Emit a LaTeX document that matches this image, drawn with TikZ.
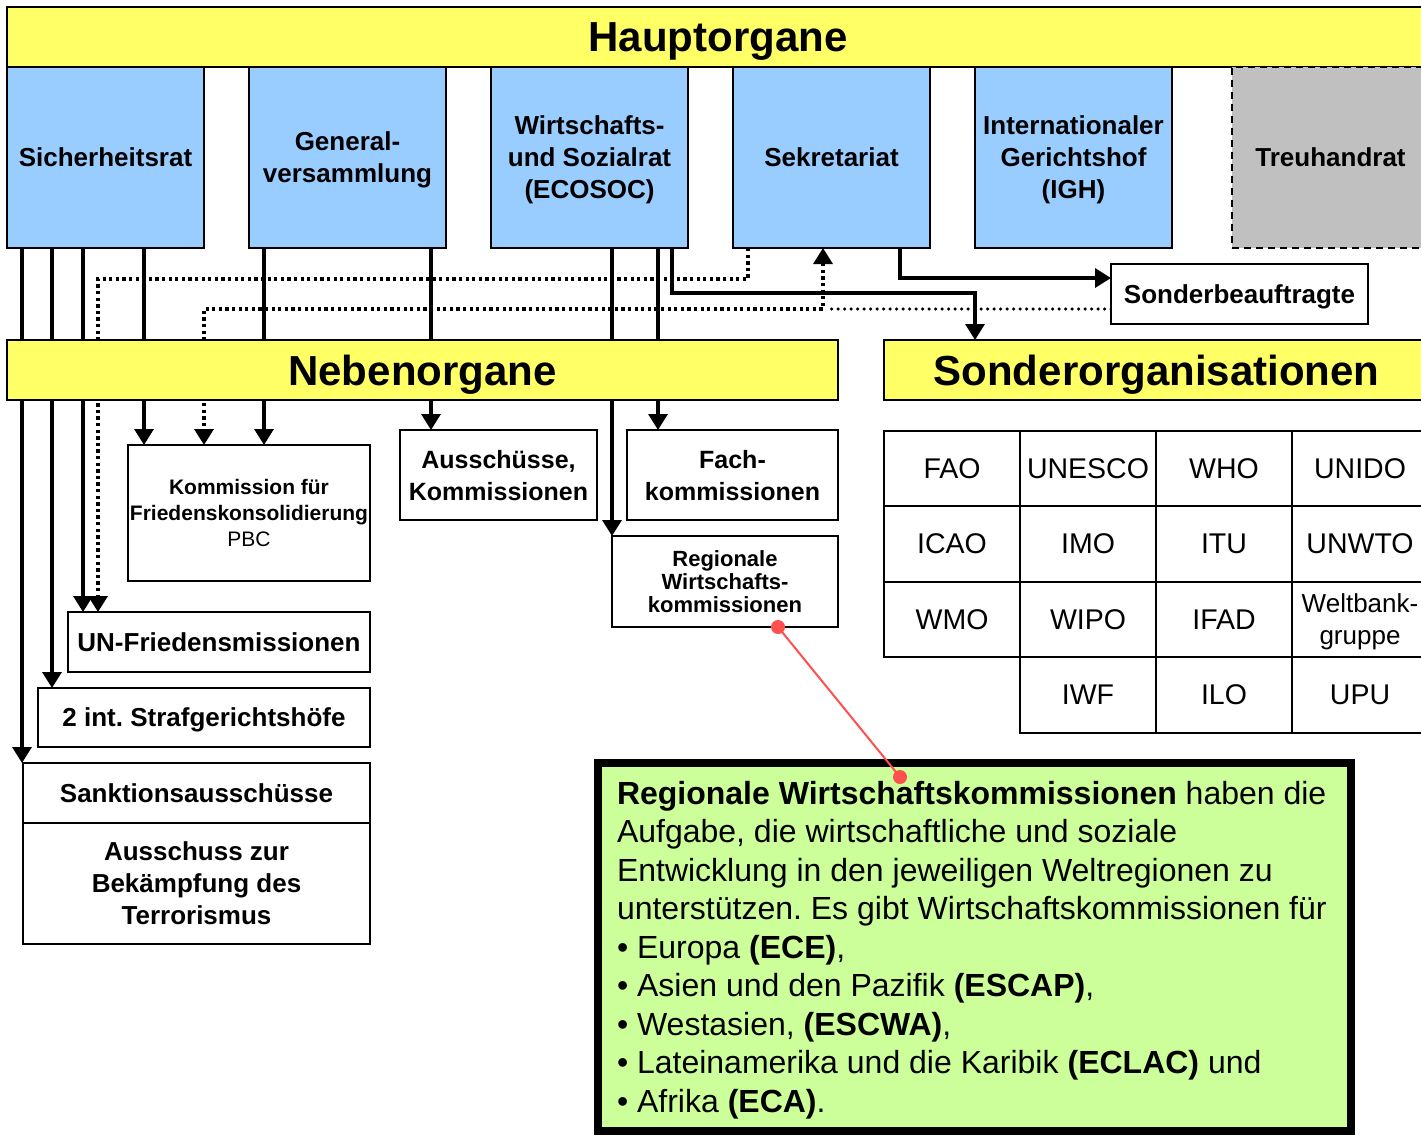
\documentclass[tikz,border=0pt]{standalone}
\usepackage{fontspec}
\setmainfont{Liberation Sans}
\usetikzlibrary{arrows.meta,backgrounds}
\definecolor{barY}{HTML}{FFFF66}
\definecolor{boxB}{HTML}{99CCFF}
\definecolor{boxG}{HTML}{C0C0C0}
\definecolor{noteG}{HTML}{CCFF99}
\definecolor{redL}{HTML}{FF5050}
\newcommand{\fsz}[2]{\fontsize{#1}{#2}\selectfont}
\pgfdeclarelayer{bottom}
\pgfsetlayers{bottom,background,main}
\frenchspacing
\begin{document}
\begin{tikzpicture}[x=1pt,y=-1pt,
  every node/.style={inner sep=0pt, outer sep=0pt},
  bar/.style={draw, line width=2pt, fill=barY, minimum height=60pt, text depth=0pt, font=\fsz{42}{48}\bfseries},
  mainbox/.style={draw, line width=1.8pt, fill=boxB, align=center, text depth=0pt, font=\fsz{26}{32}\bfseries, minimum width=197pt, minimum height=181pt},
  wbox/.style={draw, line width=2pt, fill=white, align=center, text depth=0pt, font=\fsz{26}{32}\bfseries},
  cell/.style={draw, line width=2pt, fill=white, align=center, font=\fsz{28.5}{32}, minimum width=136pt, minimum height=75.5pt},
  tip/.tip={Triangle[width=19pt,length=16pt]},
  conn/.style={line width=3.3pt, -tip},
  dotc/.style={line width=3.3pt, dash pattern=on 3.3pt off 3.3pt},
  dotfine/.style={line width=3.5pt, line cap=round, dash pattern=on 0pt off 6.5pt},
  notetext/.style={anchor=base west, font=\fsz{32}{38}},
  redline/.style={draw=redL, line width=2pt}
]
\useasboundingbox (0,0) rectangle (1421,1136);
\clip (0,0) rectangle (1421,1136);
\begin{pgfonlayer}{bottom}
  \fill[white] (0,0) rectangle (1421,1136);
\end{pgfonlayer}

% Hauptorgane
\node[bar, minimum width=1422pt] (haupt) at (718,37) {Hauptorgane};
\node[mainbox] (sr)  at (105.5,157.5) {Sicherheitsrat};
\node[mainbox] (gv)  at (347.5,157.5) {General-\\versammlung};
\node[mainbox] (eco) at (589.5,157.5) {Wirtschafts-\\und Sozialrat\\(ECOSOC)};
\node[mainbox] (sek) at (831.5,157.5) {Sekretariat};
\node[mainbox] (igh) at (1073.5,157.5) {Internationaler\\Gerichtshof\\(IGH)};
\node[mainbox, fill=boxG, dash pattern=on 7pt off 5pt] (treu) at (1330.5,157.5) {Treuhandrat};

\node[wbox, minimum width=257pt, minimum height=60pt] (sonderb) at (1239.5,294) {Sonderbeauftragte};

% bars
\node[bar, minimum width=831pt] (neben) at (422.5,370) {Nebenorgane};
\node[bar, minimum width=545pt] (sonderorg) at (1156.5,370) {Sonderorganisationen};

% Nebenorgane children
\node[wbox, minimum width=242pt, minimum height=136pt, font=\fsz{21}{26}\bfseries] (kfk) at (249,513)
  {Kommission für\\Friedenskonsolidierung\\\mdseries PBC};
\node[wbox, minimum width=197pt, minimum height=90pt, font=\fsz{25}{32}\bfseries] (aus) at (498.5,475) {Ausschüsse,\\Kommissionen};
\node[wbox, minimum width=211pt, minimum height=90pt, font=\fsz{25}{32}\bfseries] (fach) at (732.5,475) {Fach-\\kommissionen};
\node[wbox, minimum width=226pt, minimum height=91pt, font=\fsz{22}{23}\bfseries] (rwk) at (725,581.5) {Regionale\\Wirtschafts-\\kommissionen};
\node[wbox, minimum width=302pt, minimum height=60pt] (unf) at (219,642) {UN-Friedensmissionen};
\node[wbox, minimum width=332pt, minimum height=59pt] (str) at (204,717.5) {2 int. Strafgerichtshöfe};
\node[wbox, minimum width=347pt, minimum height=60pt] (sank) at (196.5,793) {Sanktionsausschüsse};
\node[wbox, minimum width=347pt, minimum height=121pt] (terr) at (196.5,883.5) {Ausschuss zur\\Bekämpfung des\\Terrorismus};

% Sonderorganisationen grid
\node[cell] (c11) at (952,468.5) {FAO};
\node[cell] (c12) at (1088,468.5) {UNESCO};
\node[cell] (c13) at (1224,468.5) {WHO};
\node[cell] (c14) at (1360,468.5) {UNIDO};
\node[cell] (c21) at (952,544) {ICAO};
\node[cell] (c22) at (1088,544) {IMO};
\node[cell] (c23) at (1224,544) {ITU};
\node[cell] (c24) at (1360,544) {UNWTO};
\node[cell] (c31) at (952,619.5) {WMO};
\node[cell] (c32) at (1088,619.5) {WIPO};
\node[cell] (c33) at (1224,619.5) {IFAD};
\node[cell, text depth=0pt, font=\fsz{26}{32}] (c34) at (1360,619.5) {Weltbank-\\gruppe};
\node[cell] (c42) at (1088,695) {IWF};
\node[cell] (c43) at (1224,695) {ILO};
\node[cell] (c44) at (1360,695) {UPU};

% connectors (behind the boxes)
\begin{scope}[on background layer]
  % Sicherheitsrat
  \draw[conn] (sr.south -| 22,0) -- (sank.north -| 22,0);
  \draw[conn] (sr.south -| 52,0) -- (str.north -| 52,0);
  \draw[conn] (sr.south -| 83,0) -- (unf.north -| 83,0);
  \draw[conn] (sr.south -| 144,0) -- (kfk.north -| 144,0);
  % Generalversammlung
  \draw[conn] (gv.south -| 264,0) -- (kfk.north -| 264,0);
  \draw[conn] (gv.south -| 431,0) -- (aus.north -| 431,0);
  % ECOSOC
  \draw[conn] (eco.south -| 612,0) -- (rwk.north -| 612,0);
  \draw[conn] (eco.south -| 658,0) -- (fach.north -| 658,0);
  \draw[conn] (eco.south -| 672,0) -- (672,293) -| (sonderorg.north -| 975,0);
  % Sekretariat
  \draw[conn] (sek.south -| 900,0) |- (sonderb.west |- 0,278);
  \draw[dotc, -tip] (sek.south -| 748,0) -- (748,279) -| (unf.north -| 98,0);
  \draw[dotc, tip-tip] (sek.south -| 823,0) -- (823,309) -| (kfk.north -| 204,0);
  \draw[dotfine] (sonderb.west |- 0,309) -- (826,309);
\end{scope}

% explanatory note
\node[draw=black, line width=8pt, fill=noteG, minimum width=753pt, minimum height=368pt] (note) at (974.5,947) {};
\node[notetext] (g1) at (617,804) {\textbf{Regionale Wirtschaftskommissionen} haben die};
\node[notetext] (g2) at (617,842.5) {Aufgabe, die wirtschaftliche und soziale};
\node[notetext] (g3) at (617,881) {Entwicklung in den jeweiligen Weltregionen zu};
\node[notetext] (g4) at (617,919.5) {unterstützen. Es gibt Wirtschaftskommissionen für};
\node[notetext] (g5) at (617,958) {• Europa \textbf{(ECE)},};
\node[notetext] (g6) at (617,996.5) {• Asien und den Pazifik \textbf{(ESCAP)},};
\node[notetext] (g7) at (617,1035) {• Westasien, \textbf{(ESCWA)},};
\node[notetext] (g8) at (617,1073.5) {• Lateinamerika und die Karibik \textbf{(ECLAC)} und};
\node[notetext] (g9) at (617,1112) {• Afrika \textbf{(ECA)}.};

% red pointer
\coordinate (rp) at (900,777);
\draw[redline] (rwk.south -| 778,0) -- (rp);
\fill[redL] (rwk.south -| 778,0) circle (7pt);
\fill[redL] (rp) circle (7pt);
\end{tikzpicture}
\end{document}
